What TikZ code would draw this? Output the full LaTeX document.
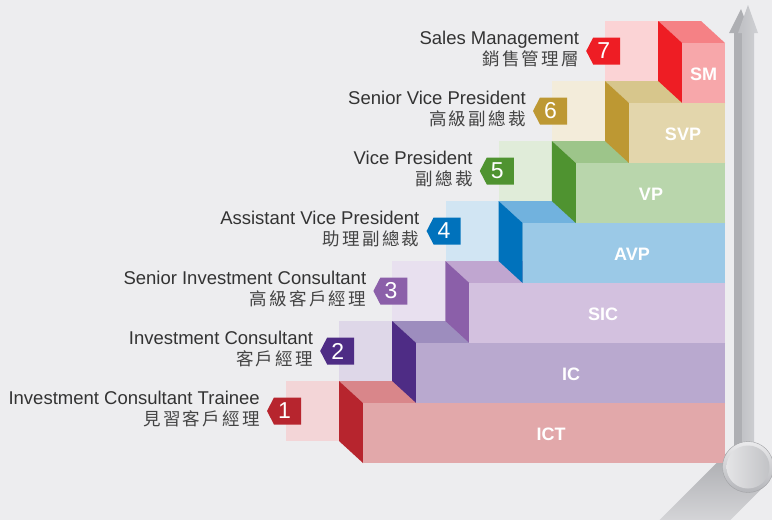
\documentclass[tikz,border=0pt]{standalone}
\usepackage{fontspec}
\setmainfont{Liberation Sans}
\newfontfamily\cjk{Noto Sans CJK TC}
\usetikzlibrary{calc}
\definecolor{bg}{HTML}{EDEDEF}
\definecolor{txt}{HTML}{333333}
\definecolor{txtc}{HTML}{444444}
% level colours: side, top, front, light
\definecolor{sA}{HTML}{B7252E}\definecolor{tA}{HTML}{D9868A}\definecolor{fA}{HTML}{E2A8AA}\definecolor{lA}{HTML}{F3D5D7}
\definecolor{sB}{HTML}{4E2C85}\definecolor{tB}{HTML}{9D8DBE}\definecolor{fB}{HTML}{B9A9CF}\definecolor{lB}{HTML}{DED7E8}
\definecolor{sC}{HTML}{8B5FA9}\definecolor{tC}{HTML}{C0A6D0}\definecolor{fC}{HTML}{D3C1DF}\definecolor{lC}{HTML}{E8E0EF}
\definecolor{sD}{HTML}{0072BC}\definecolor{tD}{HTML}{71B2DE}\definecolor{fD}{HTML}{9BC9E7}\definecolor{lD}{HTML}{D1E5F3}
\definecolor{sE}{HTML}{4F9330}\definecolor{tE}{HTML}{9DC58A}\definecolor{fE}{HTML}{B9D6AC}\definecolor{lE}{HTML}{E0ECD9}
\definecolor{sF}{HTML}{BD9833}\definecolor{tF}{HTML}{D7C68C}\definecolor{fF}{HTML}{E3D6AC}\definecolor{lF}{HTML}{F3ECDA}
\definecolor{sG}{HTML}{EE1D24}\definecolor{tG}{HTML}{F58185}\definecolor{fG}{HTML}{F7A7AA}\definecolor{lG}{HTML}{FBD3D5}
\definecolor{shd}{HTML}{A8A9AD}
\definecolor{arrL}{HTML}{BEBFC3}
\definecolor{arrR}{HTML}{D0D1D4}
\definecolor{arrS}{HTML}{AEAFB3}
\definecolor{knobA}{HTML}{EBEBED}
\definecolor{knobB}{HTML}{B4B5B9}
\definecolor{knobC}{HTML}{E4E4E6}
\definecolor{knobD}{HTML}{C2C3C6}
\newcommand\gp{\kern2.3pt}
\tikzset{
  boxlabel/.style={text=white, font=\bfseries\fontsize{18}{18}\selectfont, inner sep=0pt},
  tagnum/.style={text=white, font=\fontsize{23}{23}\selectfont, inner sep=0pt},
  eng/.style={text=txt, font=\fontsize{18.5}{20}\selectfont, inner sep=0pt, anchor=base east},
  chn/.style={text=txtc, font=\cjk\fontsize{17.5}{19}\selectfont, inner sep=0pt, anchor=base east},
}
\newcommand\drawlevel[9]{%
  \pgfmathsetmacro\X{363+53.2*(#1-1)}%
  \pgfmathsetmacro\Y{403-60*(#1-1)}%
  \pgfmathsetmacro\L{\X-77}%
  \pgfmathsetmacro\M{\Y+8}%
  \fill[l#2] (\L,\Y-22) rectangle (\X-24,\Y+38);
  \fill[t#2] (\X-24,\Y-22) -- (701,\Y-22) -- (725,\Y) -- (\X,\Y) -- cycle;
  \fill[s#2] (\X-24,\Y-22) -- (\X,\Y) -- (\X,\Y+60) -- (\X-24,\Y+38) -- cycle;
  \fill[f#2] (\X,\Y) rectangle (725,\Y+60);
  \node[boxlabel] (b#1) at (#4,\Y+31) {#3};
  \fill[s#2] (\L-19,\M) -- (\L-12,\M-13.5) -- (\L+15,\M-13.5) -- (\L+15,\M+13.5) -- (\L-12,\M+13.5) -- cycle;
  \node[tagnum] (n#1) at (\L-1.5,\M) {#1};
  \node[eng] (e#1) at (\L-26,\M-7) {#5};
  \node[chn] (c#1) at (\L-26,\M+14) {#6};
}
\begin{document}
\begin{tikzpicture}[x=1pt,y=-1pt]
\useasboundingbox (0,0) rectangle (772,520);
\clip (0,0) rectangle (772,520);
\fill[bg] (0,0) rectangle (772,520);
% knob shadow
\shade[top color=shd, bottom color=bg] (730.3,449.3) -- (765.7,484.7) -- (690.7,559.7) -- (655.3,524.3) -- cycle;
% steps
\drawlevel{1}{A}{ICT}{551}{Investment Consultant Trainee}{見\gp 習\gp 客\gp 戶\gp 經\gp 理}{}{}{}
\drawlevel{2}{B}{IC}{571}{Investment Consultant}{客\gp 戶\gp 經\gp 理}{}{}{}
\drawlevel{3}{C}{SIC}{603}{Senior Investment Consultant}{高\gp 級\gp 客\gp 戶\gp 經\gp 理}{}{}{}
\drawlevel{4}{D}{AVP}{632}{Assistant Vice President}{助\gp 理\gp 副\gp 總\gp 裁}{}{}{}
\drawlevel{5}{E}{VP}{651}{Vice President}{副\gp 總\gp 裁}{}{}{}
\drawlevel{6}{F}{SVP}{683}{Senior Vice President}{高\gp 級\gp 副\gp 總\gp 裁}{}{}{}
\drawlevel{7}{G}{SM}{703.5}{Sales Management}{銷\gp 售\gp 管\gp 理\gp 層}{}{}{}
% arrow shadow
\fill[arrS] (741,9) -- (750,33) -- (746,33) -- (746,467) -- (734,467) -- (734,33) -- (729,33) -- cycle;
% arrow
\shade[left color=arrL, right color=arrR] (748,5) -- (758,33) -- (754,33) -- (754,467) -- (742,467) -- (742,33) -- (738,33) -- cycle;
% knob
\shade[top color=knobA, bottom color=knobB, draw=knobB!90!black, line width=0.4pt] (748,467) circle (25.5pt);
\shade[left color=knobC, right color=knobD] (748,467) circle (21.5pt);
\end{tikzpicture}
\end{document}
